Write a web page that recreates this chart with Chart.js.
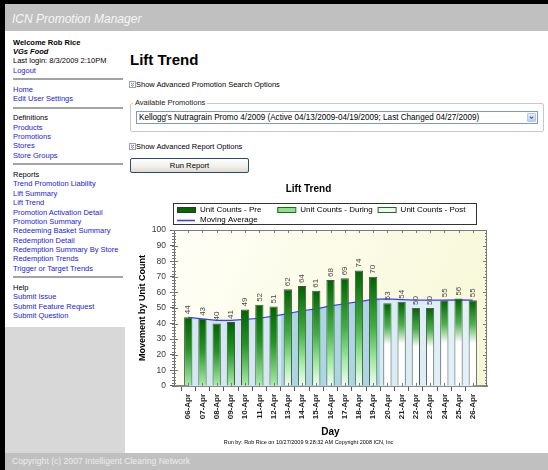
<!DOCTYPE html>
<html lang="en">
<head>
<meta charset="utf-8">
<title>Lift Trend</title>
<script src="https://cdn.jsdelivr.net/npm/chart.js@4.4.1/dist/chart.umd.min.js"></script>
<style>
  html, body { margin: 0; padding: 0; }
  body {
    position: relative; width: 548px; height: 470px; overflow: hidden;
    background: #000; color: #000;
    font-family: "Liberation Sans", Arial, sans-serif; font-size: 7.5px;
  }
  .abs { position: absolute; white-space: nowrap; }
  #header { left: 5px; top: 4px; width: 543px; height: 27px; background: #c0c0c0; }
  #header span { position: absolute; left: 7px; top: 8.5px; font-size: 12px; line-height: 12px; font-style: italic; color: #f6f6f6; }
  #side { left: 5px; top: 31px; width: 120px; height: 296px; background: #fff; }
  #sideGray { left: 5px; top: 327px; width: 120px; height: 126px; background: #d8d8d8; }
  #main { left: 125px; top: 31px; width: 423px; height: 422px; background: #fff; }
  #footer { left: 5px; top: 453px; width: 543px; height: 17px; background: #c0c0c0; }
  #footer span { position: absolute; left: 7px; top: 4px; line-height: 9px; font-size: 8.6px; color: #ececec; }
  #nav { left: 13px; top: 37.6px; width: 110px; line-height: 9.4px; }
  #nav div { height: 9.4px; }
  #nav .b { font-weight: bold; }
  #nav .i { font-style: italic; }
  #nav .a { color: #2222dd; }
  #nav .sep { height: 2px; margin: 3px 0 4.7px; background: #a4a4a4; }
  h1 { position: absolute; left: 130px; top: 51.8px; margin: 0; font-size: 15px; line-height: 16px; font-weight: bold; }
  .opt { line-height: 9px; }
  .opt svg { position: absolute; left: -7px; top: 1px; }
  #fieldset { left: 130px; top: 102.5px; width: 412px; height: 27px; border: 1px solid #c8c8c8; border-radius: 2px; }
  #fieldLegend { left: 133px; top: 98px; padding: 0 2px; background: #fff; line-height: 9px; color: #222; }
  #select { left: 136px; top: 111px; width: 400px; height: 11px; border: 1px solid #7f9db9; background: #fff; }
  #select span { position: absolute; left: 2px; top: 1px; line-height: 9px; font-size: 8.15px; }
  #select i { position: absolute; right: 1px; top: 1px; width: 9px; height: 9px; border-radius: 1px;
    background: linear-gradient(#e6eefd, #b9cdf5); border: 1px solid #b4c7ee; box-sizing: border-box; }
  #button { left: 130px; top: 158px; width: 119px; height: 15px; box-sizing: border-box; border: 1px solid #2a4a74;
    border-radius: 2px; background: linear-gradient(#ffffff, #f0efe8 60%, #dcdad0); text-align: center; line-height: 13px; font-size: 7.7px; }
  #chartBox { left: 130px; top: 180px; width: 360px; height: 270px; }
  canvas { display: block; }
</style>
</head>
<body>
<div id="header" class="abs"><span>ICN Promotion Manager</span></div>
<div id="side" class="abs"></div>
<div id="sideGray" class="abs"></div>
<div id="main" class="abs"></div>
<div id="footer" class="abs"><span>Copyright (c) 2007 Intelligent Clearing Network</span></div>

<div id="nav" class="abs">
  <div class="b">Welcome Rob Rice</div>
  <div class="b i">VGs Food</div>
  <div>Last login: 8/3/2009 2:10PM</div>
  <div class="a">Logout</div>
  <div class="sep"></div>
  <div class="a">Home</div>
  <div class="a">Edit User Settings</div>
  <div class="sep"></div>
  <div>Definitions</div>
  <div class="a">Products</div>
  <div class="a">Promotions</div>
  <div class="a">Stores</div>
  <div class="a">Store Groups</div>
  <div class="sep"></div>
  <div>Reports</div>
  <div class="a">Trend Promotion Liability</div>
  <div class="a">Lift Summary</div>
  <div class="a">Lift Trend</div>
  <div class="a">Promotion Activation Detail</div>
  <div class="a">Promotion Summary</div>
  <div class="a">Redeeming Basket Summary</div>
  <div class="a">Redemption Detail</div>
  <div class="a">Redemption Summary By Store</div>
  <div class="a">Redemption Trends</div>
  <div class="a">Trigger or Target Trends</div>
  <div class="sep"></div>
  <div>Help</div>
  <div class="a">Submit Issue</div>
  <div class="a">Submit Feature Request</div>
  <div class="a">Submit Question</div>
</div>

<h1>Lift Trend</h1>
<div class="abs opt" style="left:136px;top:79.5px">
  <svg width="7" height="7"><rect x=".5" y=".5" width="6" height="6" fill="#fff" stroke="#9aa4b0"/><path d="M2 1.8l1.5 1.4L5 1.8M2 3.8l1.5 1.4L5 3.8" stroke="#4a5a80" fill="none" stroke-width=".8"/></svg>
  Show Advanced Promotion Search Options
</div>
<div id="fieldset" class="abs"></div>
<div id="fieldLegend" class="abs">Available Promotions</div>
<div id="select" class="abs">
  <span>Kellogg's Nutragrain Promo 4/2009 (Active 04/13/2009-04/19/2009; Last Changed 04/27/2009)</span>
  <i><svg width="7" height="7" style="position:absolute;left:0;top:0"><path d="M1.8 2.6l1.7 1.7 1.7-1.7" stroke="#4d6185" fill="none" stroke-width="1.1"/></svg></i>
</div>
<div class="abs opt" style="left:136px;top:142.2px">
  <svg width="7" height="7"><rect x=".5" y=".5" width="6" height="6" fill="#fff" stroke="#9aa4b0"/><path d="M2 1.8l1.5 1.4L5 1.8M2 3.8l1.5 1.4L5 3.8" stroke="#4a5a80" fill="none" stroke-width=".8"/></svg>
  Show Advanced Report Options
</div>
<div id="button" class="abs">Run Report</div>

<div id="chartBox" class="abs"><canvas id="liftChart" width="360" height="270"></canvas></div>

<script>
const days = [
  "06-Apr", "07-Apr", "08-Apr", "09-Apr", "10-Apr", "11-Apr", "12-Apr",
  "13-Apr", "14-Apr", "15-Apr", "16-Apr", "17-Apr", "18-Apr", "19-Apr",
  "20-Apr", "21-Apr", "22-Apr", "23-Apr", "24-Apr", "25-Apr", "26-Apr"
];
const preUnits = [44, 43, 40, 41, 49, 52, 51];
const duringUnits = [62, 64, 61, 68, 69, 74, 70];
const postUnits = [53, 54, 50, 50, 55, 56, 55];
const movingAverage = [44, 43, 42, 42, 42.7, 43.4, 44.8, 46.4, 48.2, 49.4, 51.3, 52.7, 54, 55.5, 55.8, 55.3, 55, 55, 55, 55.2, 55];
const yMin = 0;
const yMax = 100;
const yStep = 10;
const yMinorStep = 2;

const sans = "'Liberation Sans', Arial, sans-serif";
Chart.defaults.font.family = sans;

// one empty slot either side: the original axis runs a full day past the first and last bar
const labels = ["", ...days, ""];
const preStart = 1;
const duringStart = preStart + preUnits.length;
const postStart = duringStart + duringUnits.length;

function placeAt(values, start) {
  const out = labels.map(() => null);
  values.forEach((v, i) => { out[start + i] = v; });
  return out;
}

function barGradient(stops) {
  return context => {
    const chart = context.chart;
    const y = chart.scales.y;
    if (!chart.chartArea || !y || context.raw == null) return stops[0][1];
    const top = y.getPixelForValue(context.raw);
    const bottom = y.getPixelForValue(0);
    const g = chart.ctx.createLinearGradient(0, top, 0, bottom);
    stops.forEach(([at, color]) => g.addColorStop(at, color));
    return g;
  };
}

function averageFill(context) {
  const chart = context.chart;
  const a = chart.chartArea;
  const x = chart.scales.x;
  if (!a || !x) return "#bcdde8";
  const mid = i => (x.getPixelForValue(i - 1) + x.getPixelForValue(i)) / 2;
  const f = p => Math.min(1, Math.max(0, (p - a.left) / (a.right - a.left)));
  const e1 = f(mid(duringStart));
  const e2 = f(mid(postStart));
  const g = chart.ctx.createLinearGradient(a.left, 0, a.right, 0);
  g.addColorStop(0, "#d3e8f0");
  g.addColorStop(e1, "#d3e8f0");
  g.addColorStop(e1, "#abd6e2");
  g.addColorStop(e2, "#abd6e2");
  g.addColorStop(e2, "#d6ebf2");
  g.addColorStop(1, "#e6f3f8");
  return g;
}

const swatches = [
  { fill: "#006a00", edge: "#333" },
  { fill: "#8ee08e", edge: "#1d6b1d" },
  { fill: "#eafbea", edge: "#2d5f2d" }
];

const plotFrame = {
  id: "plotFrame",
  beforeDraw(chart) {
    const { ctx, chartArea: a } = chart;
    const g = ctx.createLinearGradient(a.left, a.top, a.right, a.bottom);
    g.addColorStop(0, "#fffff7");
    g.addColorStop(1, "#f7f7d6");
    ctx.save();
    ctx.fillStyle = g;
    ctx.fillRect(a.left, a.top, a.right - a.left, a.bottom - a.top);
    ctx.restore();
  },
  afterDatasetsDraw(chart) {
    const { ctx, chartArea: a, scales: { x, y } } = chart;
    ctx.save();
    ctx.strokeStyle = "#7a7a7a";
    ctx.lineWidth = 1;
    ctx.beginPath();
    ctx.moveTo(a.left, a.top + 0.5);
    ctx.lineTo(a.right, a.top + 0.5);
    ctx.moveTo(a.right - 0.5, a.top);
    ctx.lineTo(a.right - 0.5, a.bottom);
    for (let v = yMin; v <= yMax; v += yMinorStep) {
      const py = Math.round(y.getPixelForValue(v)) + 0.5;
      const len = v % yStep === 0 ? 4 : 2;
      ctx.moveTo(a.left - 2, py);
      ctx.lineTo(a.left + len, py);
      ctx.moveTo(a.right - len, py);
      ctx.lineTo(a.right, py);
    }
    days.forEach((d, i) => {
      const px = Math.round(x.getPixelForValue(preStart + i)) + 0.5;
      ctx.moveTo(px, a.top);
      ctx.lineTo(px, a.top + 3);
      ctx.moveTo(px, a.bottom - 3);
      ctx.lineTo(px, a.bottom);
    });
    ctx.stroke();

    // unit counts above each bar, rotated
    ctx.fillStyle = "#454545";
    ctx.font = "8px " + sans;
    ctx.textAlign = "left";
    ctx.textBaseline = "middle";
    chart.data.datasets.forEach((ds, di) => {
      if (ds.type !== "bar") return;
      chart.getDatasetMeta(di).data.forEach((bar, i) => {
        const v = ds.data[i];
        if (v == null) return;
        ctx.save();
        ctx.translate(bar.x, bar.y - 3);
        ctx.rotate(-Math.PI / 2);
        ctx.fillText(String(v), 0, 0);
        ctx.restore();
      });
    });
    ctx.restore();
  },
  afterDraw(chart) {
    const { ctx, chartArea: a } = chart;
    const left = a.left - 1;
    const top = a.top - 27;
    const w = 303;
    const h = 21;
    ctx.save();
    ctx.fillStyle = "#fff";
    ctx.fillRect(left, top, w, h);
    ctx.strokeStyle = "#333";
    ctx.lineWidth = 1;
    ctx.strokeRect(left + 0.5, top + 0.5, w, h);
    ctx.font = "8px " + sans;
    ctx.textBaseline = "middle";
    chart.data.datasets.forEach((ds, i) => {
      const sx = left + 4 + (i % 3) * 100.3;
      const cy = top + 7 + Math.floor(i / 3) * 10;
      if (ds.type === "line") {
        ctx.strokeStyle = "#c4cdfc";
        ctx.lineWidth = 3;
        ctx.beginPath();
        ctx.moveTo(sx, cy + 0.5);
        ctx.lineTo(sx + 18, cy + 0.5);
        ctx.stroke();
        ctx.strokeStyle = ds.borderColor;
        ctx.lineWidth = 1;
        ctx.stroke();
      } else {
        const s = swatches[i];
        ctx.fillStyle = s.fill;
        ctx.fillRect(sx, cy - 2, 18, 5);
        ctx.strokeStyle = s.edge;
        ctx.lineWidth = 1;
        ctx.strokeRect(sx + 0.5, cy - 2.5, 18, 5);
      }
      ctx.fillStyle = "#000";
      ctx.fillText(ds.label, sx + 23, cy);
    });
    ctx.restore();
  }
};

new Chart(document.getElementById("liftChart"), {
  type: "bar",
  data: {
    labels: labels,
    datasets: [
      {
        type: "bar",
        label: "Unit Counts - Pre",
        data: placeAt(preUnits, preStart),
        backgroundColor: barGradient([[0, "#006400"], [0.45, "#229322"], [1, "#a8f0a8"]]),
        borderColor: "#4c4c4c",
        borderWidth: 1,
        grouped: false,
        order: 1
      },
      {
        type: "bar",
        label: "Unit Counts - During",
        data: placeAt(duringUnits, duringStart),
        backgroundColor: barGradient([[0, "#006400"], [0.45, "#3fae3f"], [0.75, "#9ceb9c"], [1, "#f1fff1"]]),
        borderColor: "#4c4c4c",
        borderWidth: 1,
        grouped: false,
        order: 1
      },
      {
        type: "bar",
        label: "Unit Counts - Post",
        data: placeAt(postUnits, postStart),
        backgroundColor: barGradient([[0, "#006400"], [0.28, "#4bb24b"], [0.5, "#ffffff"], [1, "#ffffff"]]),
        borderColor: "#5a5a5a",
        borderWidth: 1,
        grouped: false,
        order: 1
      },
      {
        type: "line",
        label: "Moving Average",
        data: placeAt(movingAverage, preStart),
        borderColor: "#3c3cff",
        borderWidth: 1.2,
        backgroundColor: averageFill,
        fill: "origin",
        pointRadius: 0,
        tension: 0,
        order: 3
      }
    ]
  },
  options: {
    responsive: false,
    animation: false,
    layout: { padding: { left: 0, right: 3, top: 0, bottom: 0 } },
    datasets: { bar: { categoryPercentage: 1, barPercentage: 0.58 } },
    plugins: {
      legend: { display: false },
      tooltip: { enabled: false },
      title: {
        display: true,
        text: "Lift Trend",
        color: "#000",
        font: { size: 10, weight: "bold" },
        padding: { top: 3, bottom: 35 }
      },
      subtitle: {
        display: true,
        position: "bottom",
        text: "Run by: Rob Rice on 10/27/2009 9:28:32 AM Copyright 2008 ICN, Inc",
        color: "#000",
        font: { size: 5.5 },
        padding: { top: 1, bottom: 4.5 }
      }
    },
    scales: {
      x: {
        offset: false,
        grid: {
          drawOnChartArea: false,
          tickLength: 5,
          color: c => (labels[c.index] ? "#555" : "rgba(0,0,0,0)")
        },
        border: { display: true, color: "#8a8a8a", width: 2 },
        ticks: {
          autoSkip: false,
          maxRotation: 90,
          minRotation: 90,
          padding: 3,
          color: "#222",
          font: { size: 8, weight: "bold" }
        },
        title: {
          display: true,
          text: "Day",
          color: "#000",
          font: { size: 10, weight: "bold" },
          padding: { top: 0, bottom: 0 }
        },
        afterFit(scale) {
          scale.height = 52;
          scale.paddingLeft = 0;
          scale.paddingRight = 0;
        }
      },
      y: {
        min: yMin,
        max: yMax,
        ticks: {
          stepSize: yStep,
          padding: 4,
          color: "#3a3a3a",
          font: { size: 8.5 }
        },
        grid: { drawOnChartArea: false, tickLength: 4, color: "#666" },
        border: { display: true, color: "#6a6a6a", width: 1 },
        title: {
          display: true,
          text: "Movement by Unit Count",
          color: "#000",
          font: { size: 9, weight: "bold" },
          padding: { top: 7, bottom: 0 }
        },
        afterFit(scale) {
          scale.width = 44;
        }
      }
    }
  },
  plugins: [plotFrame]
});
</script>
</body>
</html>
